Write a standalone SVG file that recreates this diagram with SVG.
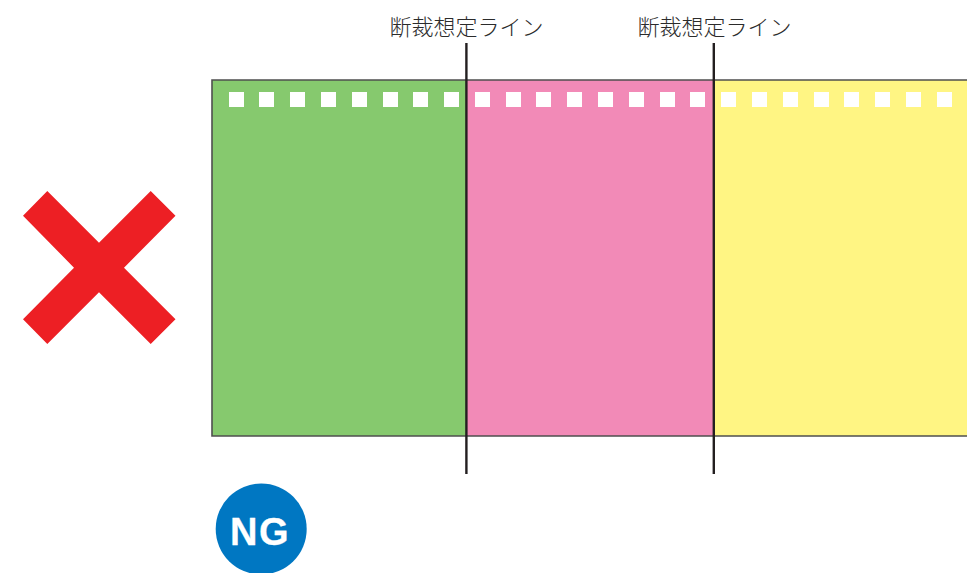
<svg xmlns="http://www.w3.org/2000/svg" width="967" height="573" viewBox="0 0 967 573">
<style>
.lbl{font-family:"Noto Sans CJK JP","Noto Sans",sans-serif;font-size:22px;font-weight:300;fill:#2b2b2b}
.cut{stroke:#231f20;stroke-width:2.4;fill:none}
.edge{stroke:#4f4f4f;stroke-width:1.6;fill:none}
.sq{fill:#fff}
</style>
<rect width="967" height="573" fill="#fff"/>
<g id="sheet">
<rect x="212" y="80" width="254" height="356" fill="#86c96e"/>
<rect x="466" y="80" width="248" height="356" fill="#f28ab7"/>
<rect x="714" y="80" width="253" height="356" fill="#fff583"/>
<path class="edge" d="M968 80H212V436H968"/>
</g>
<g id="holes">
<rect class="sq" x="229" y="92" width="15" height="15"/><rect class="sq" x="259" y="92" width="15" height="15"/><rect class="sq" x="290" y="92" width="15" height="15"/><rect class="sq" x="321" y="92" width="15" height="15"/><rect class="sq" x="352" y="92" width="15" height="15"/><rect class="sq" x="383" y="92" width="15" height="15"/><rect class="sq" x="413" y="92" width="15" height="15"/><rect class="sq" x="444" y="92" width="15" height="15"/><rect class="sq" x="475" y="92" width="15" height="15"/><rect class="sq" x="506" y="92" width="15" height="15"/><rect class="sq" x="536" y="92" width="15" height="15"/><rect class="sq" x="567" y="92" width="15" height="15"/><rect class="sq" x="598" y="92" width="15" height="15"/><rect class="sq" x="629" y="92" width="15" height="15"/><rect class="sq" x="660" y="92" width="15" height="15"/><rect class="sq" x="690" y="92" width="15" height="15"/><rect class="sq" x="721" y="92" width="15" height="15"/><rect class="sq" x="752" y="92" width="15" height="15"/><rect class="sq" x="783" y="92" width="15" height="15"/><rect class="sq" x="814" y="92" width="15" height="15"/><rect class="sq" x="844" y="92" width="15" height="15"/><rect class="sq" x="875" y="92" width="15" height="15"/><rect class="sq" x="906" y="92" width="15" height="15"/><rect class="sq" x="937" y="92" width="15" height="15"/>
</g>
<g id="connectors">
<line class="cut" x1="466.4" y1="43" x2="466.4" y2="474"/>
<line class="cut" x1="713.8" y1="43" x2="713.8" y2="474"/>
</g>
<g id="label-1"><text class="lbl" x="389.5" y="35" textLength="154">断裁想定ライン</text></g>
<g id="label-2"><text class="lbl" x="637.5" y="35" textLength="154">断裁想定ライン</text></g>
<g id="cross"><polygon fill="#ed1f24" points="47.3,191 99,242.7 150.7,191 175.5,215.7 124,267.7 175.5,319.3 150.7,344 99,292.3 47.3,344 23,319.3 74,267.7 23,215.7"/></g>
<g id="ng-badge">
<circle cx="261.2" cy="529" r="45.5" fill="#0077c2"/>
<text x="260" y="544.5" text-anchor="middle" font-family="Liberation Sans, Arial, sans-serif" font-weight="700" font-size="38" letter-spacing="1.5" stroke="#fff" stroke-width="0.3" fill="#fff">NG</text>
</g>
</svg>
